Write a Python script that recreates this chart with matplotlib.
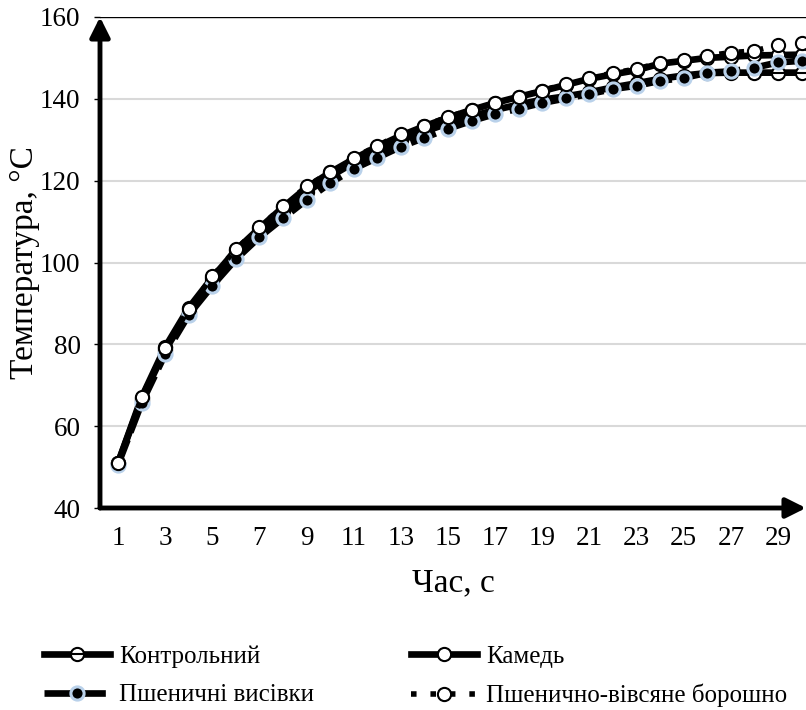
import numpy as np
import matplotlib
matplotlib.use('Agg')
import matplotlib.pyplot as plt
from matplotlib.legend_handler import HandlerTuple

plt.rcParams['font.family'] = ['Liberation Serif', 'DejaVu Serif']

# time, s
hours = list(range(1, 31))
x_ticks = list(range(1, 30, 2))

control = [51.0, 66.5, 78.6, 88.0, 95.6, 102.2, 107.6, 112.5, 117.2, 121.0,
           124.4, 127.2, 129.9, 132.0, 134.0, 135.7, 137.3, 138.6, 139.8, 140.6,
           141.6, 142.8, 143.8, 144.9, 145.7, 146.3, 146.4, 146.4, 146.4, 146.4]
gum = [51.0, 67.0, 79.3, 88.9, 96.3, 103.0, 108.4, 113.5, 118.3, 122.0,
       125.3, 128.3, 131.0, 133.3, 135.4, 137.3, 139.0, 140.5, 141.9, 143.4,
       144.9, 146.0, 147.0, 148.6, 149.3, 150.0, 150.3, 150.6, 150.7, 150.8]
bran = [50.6, 65.6, 77.6, 87.2, 94.3, 100.8, 106.2, 110.8, 115.3, 119.4,
        122.9, 125.6, 128.3, 130.5, 132.7, 134.6, 136.3, 137.6, 139.0, 140.1,
        141.2, 142.4, 143.2, 144.4, 145.1, 146.4, 146.7, 147.6, 148.9, 149.3]
oat = [51.0, 67.1, 79.1, 88.6, 96.6, 103.2, 108.6, 113.7, 118.6, 122.1,
       125.6, 128.5, 131.4, 133.4, 135.6, 137.3, 139.0, 140.5, 142.0, 143.7,
       145.1, 146.3, 147.3, 148.8, 149.5, 150.5, 151.3, 151.7, 153.2, 153.7]

labels = ['Контрольний', 'Камедь', 'Пшеничні висівки', 'Пшенично-вівсяне борошно']

fig = plt.figure(figsize=(8.06, 7.10), dpi=100)
ax = fig.add_axes([100/806, 1-508/710, 706/806, 491/710])

lw = 4.8
ms = 9.5
l1, = ax.plot(hours, control, color='black', lw=lw, marker='o', ms=ms,
              mfc='white', mec='black', mew=1.5, zorder=3)
l1b, = ax.plot(hours, control, ls='none', marker='_', ms=ms, mec='black',
               mew=1.5, zorder=3)
l2, = ax.plot(hours, gum, color='black', lw=lw, marker='o', ms=ms,
              mfc='white', mec='black', mew=1.5, zorder=4)
l3, = ax.plot(hours, bran, color='black', lw=lw, ls=(0, (4, 1.2)), marker='o',
              ms=ms, mfc='black', mec='#b9d1ea', mew=2.2, zorder=5)
l4, = ax.plot(hours, oat, color='black', lw=4, ls=(0, (1, 2.5)),
              dash_capstyle='butt', marker='o', ms=ms, mfc='white',
              mec='black', mew=1.5, zorder=6)

ax.set_xlim(0.236, 30.19)
ax.set_ylim(40, 160)
ax.set_yticks([40, 60, 80, 100, 120, 140, 160])
ax.set_xticks(x_ticks)
ax.tick_params(axis='y', direction='out', length=4, width=1, pad=10, labelsize=19.5)
ax.tick_params(axis='x', length=0, pad=13, labelsize=19.5)
for v in [60, 80, 100, 120, 140]:
    ax.axhline(v, color='#d9d9d9', lw=1.5, zorder=0)
ax.axhline(160, color='black', lw=1, zorder=0)

for s in ['top', 'right', 'left', 'bottom']:
    ax.spines[s].set_visible(False)
ax.annotate('', xy=(0, 1), xytext=(0, 0), xycoords='axes fraction',
            arrowprops=dict(arrowstyle='-|>', lw=3.5, color='black',
                            mutation_scale=30, shrinkA=0, shrinkB=0),
            annotation_clip=False)
ax.annotate('', xy=(1, 0), xytext=(0, 0), xycoords='axes fraction',
            arrowprops=dict(arrowstyle='-|>', lw=3.5, color='black',
                            mutation_scale=30, shrinkA=0, shrinkB=0),
            annotation_clip=False)

ax.set_ylabel('Температура, °C', fontsize=24, labelpad=0)
ax.set_xlabel('Час, с', fontsize=24, labelpad=12)

leg_kw = dict(handler_map={tuple: HandlerTuple(ndivide=1)},
              loc='upper left', frameon=False, borderpad=0, borderaxespad=0,
              fontsize=18, handlelength=2.65, handletextpad=0.35,
              labelspacing=0.65)
fig.legend([(l1, l1b), l3], [labels[0], labels[2]],
           bbox_to_anchor=(44/806, 1-645/710), **leg_kw)
fig.legend([l2, l4], [labels[1], labels[3]],
           bbox_to_anchor=(411/806, 1-645/710), **leg_kw)

fig.savefig('out.png', dpi=100)
